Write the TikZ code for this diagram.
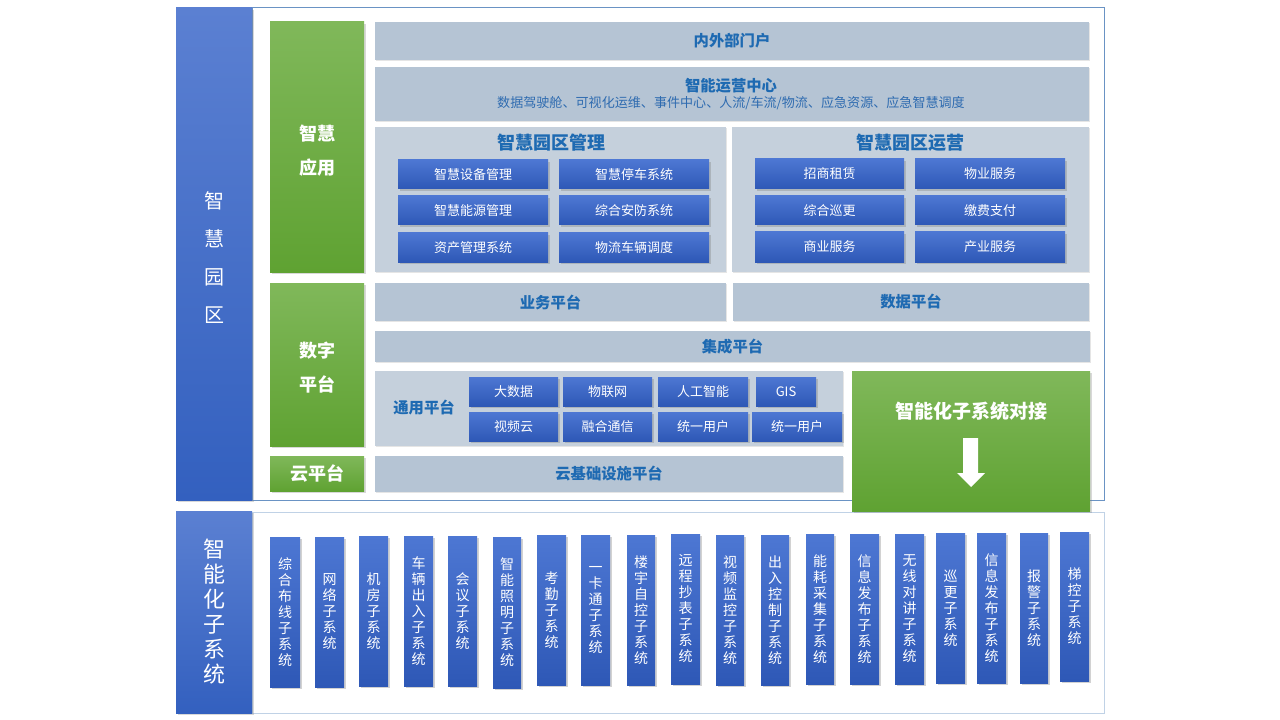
\documentclass[tikz,border=0pt]{standalone}
\usepackage{fontspec}
\setmainfont{Noto Sans CJK SC}
\usetikzlibrary{shadows}
\definecolor{bluetop}{HTML}{5B80D2}
\definecolor{bluebot}{HTML}{3360BF}
\definecolor{btntop}{HTML}{4D77D3}
\definecolor{btnbot}{HTML}{2E58B6}
\definecolor{greentop}{HTML}{80B85A}
\definecolor{greenbot}{HTML}{5FA232}
\definecolor{panelgray}{HTML}{B5C4D4}
\definecolor{panellight}{HTML}{C5D0DC}
\definecolor{titleblue}{HTML}{1E6AB2}
\definecolor{subblue}{HTML}{2E6BB0}
\definecolor{frameblue}{HTML}{6A93C4}
\definecolor{framelight}{HTML}{C0D2E6}
\newcommand\bx[7]{\node[#2, minimum width={(#5-#3)*0.75pt}, minimum height={(#6-#4)*0.75pt}] (#1) at ({(#3+#5)/2},{(#4+#6)/2}) {#7};}
\tikzset{
  base/.style={inner sep=0pt, outer sep=0pt, align=center},
  sidebar/.style={base, top color=bluetop, bottom color=bluebot, text=white,
    drop shadow={shadow xshift=1.5pt, shadow yshift=-1.5pt, opacity=0.3}},
  greenbox/.style={base, top color=greentop, bottom color=greenbot, text=white,
    font=\bfseries\fontsize{13.5}{25.5}\selectfont,
    drop shadow={shadow xshift=1.5pt, shadow yshift=-1.5pt, opacity=0.3}},
  greentext/.style={base, text=white, font=\bfseries\fontsize{13.5}{25.5}\selectfont},
  panel/.style={base, fill=panelgray, text=titleblue, font=\bfseries\fontsize{11.5}{14}\selectfont,
    drop shadow={shadow xshift=1pt, shadow yshift=-1pt, opacity=0.2}},
  container/.style={base, fill=panellight,
    drop shadow={shadow xshift=1pt, shadow yshift=-1pt, opacity=0.2}},
  btn/.style={base, top color=btntop, bottom color=btnbot, text=white,
    font=\fontsize{9.75}{12}\selectfont,
    drop shadow={shadow xshift=1.5pt, shadow yshift=-1.5pt, opacity=0.35}},
  vbox/.style={btn, font=\fontsize{10.5}{12}\selectfont},
  heading/.style={base, text=titleblue, font=\bfseries\fontsize{13.5}{16}\selectfont},
  frame/.style={base, draw=frameblue, line width=0.75pt},
  framelt/.style={base, draw=framelight, line width=0.75pt},
}
\begin{document}
\begin{tikzpicture}[x=0.75pt,y=-0.75pt]
\useasboundingbox[fill=white] (0,0) rectangle (1280,720);
% frames
\bx{topframe}{frame}{252}{8}{1104}{500}{}
\bx{botframe}{framelt}{252}{512}{1104}{713}{}
% side bars
\bx{park}{sidebar}{176}{8}{252}{500}{}
\node[base, text=white, font=\fontsize{15}{28.5}\selectfont] (parkt) at (214,258) {智\\慧\\园\\区};
\bx{subsys}{sidebar, font=\fontsize{16.5}{18.75}\selectfont}{176}{511}{252}{713}{智\\能\\化\\子\\系\\统}
% green
\bx{app}{greenbox}{270}{22}{364}{272}{}
\node[greentext] (appt) at (317,151) {智慧\\应用};
\bx{digital}{greenbox}{270}{283}{364}{446}{}
\node[greentext] (digitalt) at (317,368) {数字\\平台};
\bx{cloud}{greenbox}{270}{456}{364}{491}{云平台}
\bx{dock}{greenbox}{852}{371}{1090}{511}{}
\node[base, text=white, font=\bfseries\fontsize{14.25}{17}\selectfont] (docktxt) at (971,411) {智能化子系统对接};
\fill[white] (963,438) -- (978,438) -- (978,473) -- (985,473) -- (971,487) -- (957,473) -- (963,473) -- cycle;
% top panels
\bx{portal}{panel}{375}{22}{1089}{60}{内外部门户}
\bx{ioc}{panel}{375}{67}{1089}{121}{}
\node[base, text=titleblue, font=\bfseries\fontsize{11.5}{14}\selectfont] (ioct) at (731,86) {智能运营中心};
\node[base, text=subblue, font=\fontsize{9.8}{12}\selectfont] (iocs) at (731,103) {数据驾驶舱、可视化运维、事件中心、人流/车流/物流、应急资源、应急智慧调度};
\bx{mgmt}{container}{375}{127}{726}{272}{}
\bx{ops}{container}{732}{127}{1089}{272}{}
\node[heading] (mgmth) at (551,143) {智慧园区管理};
\node[heading] (opsh) at (910,143) {智慧园区运营};
% management buttons
\bx{m11}{btn}{398}{160}{548}{189}{智慧设备管理}
\bx{m12}{btn}{559}{160}{709}{189}{智慧停车系统}
\bx{m21}{btn}{398}{196}{548}{225}{智慧能源管理}
\bx{m22}{btn}{559}{196}{709}{225}{综合安防系统}
\bx{m31}{btn}{398}{233}{548}{262}{资产管理系统}
\bx{m32}{btn}{559}{233}{709}{262}{物流车辆调度}
% operation buttons
\bx{o11}{btn}{755}{159}{904}{189}{招商租赁}
\bx{o12}{btn}{915}{159}{1065}{189}{物业服务}
\bx{o21}{btn}{755}{196}{904}{225}{综合巡更}
\bx{o22}{btn}{915}{196}{1065}{225}{缴费支付}
\bx{o31}{btn}{755}{232}{904}{262}{商业服务}
\bx{o32}{btn}{915}{232}{1065}{262}{产业服务}
% platforms
\bx{biz}{panel}{375}{283}{726}{321}{业务平台}
\bx{data}{panel}{733}{283}{1089}{321}{数据平台}
\bx{integ}{panel}{375}{331}{1090}{362}{集成平台}
\bx{common}{container}{375}{371}{843}{446}{}
\node[base, text=titleblue, font=\bfseries\fontsize{11.5}{14}\selectfont] (commont) at (424,408) {通用平台};
\bx{c11}{btn}{469}{377}{558}{406}{大数据}
\bx{c12}{btn}{563}{377}{652}{406}{物联网}
\bx{c13}{btn}{658}{377}{748}{406}{人工智能}
\bx{c14}{btn}{756}{377}{816}{406}{GIS}
\bx{c21}{btn}{469}{412}{558}{441}{视频云}
\bx{c22}{btn}{563}{412}{652}{441}{融合通信}
\bx{c23}{btn}{658}{412}{748}{441}{统一用户}
\bx{c24}{btn}{752}{412}{842}{441}{统一用户}
\bx{infra}{panel}{375}{456}{843}{492}{云基础设施平台}
% subsystems
\bx{s1}{vbox}{270}{537}{300}{687}{综\\合\\布\\线\\子\\系\\统}
\bx{s2}{vbox}{315}{537}{344}{687}{网\\络\\子\\系\\统}
\bx{s3}{vbox}{359}{536}{388}{686}{机\\房\\子\\系\\统}
\bx{s4}{vbox}{404}{536}{433}{686}{车\\辆\\出\\入\\子\\系\\统}
\bx{s5}{vbox}{448}{536}{477}{686}{会\\议\\子\\系\\统}
\bx{s6}{vbox}{493}{537}{521}{688}{智\\能\\照\\明\\子\\系\\统}
\bx{s7}{vbox}{537}{535}{566}{685}{考\\勤\\子\\系\\统}
\bx{s8}{vbox}{581}{535}{610}{685}{一\\卡\\通\\子\\系\\统}
\bx{s9}{vbox}{627}{535}{655}{685}{楼\\宇\\自\\控\\子\\系\\统}
\bx{s10}{vbox}{671}{534}{700}{684}{远\\程\\抄\\表\\子\\系\\统}
\bx{s11}{vbox}{716}{535}{744}{685}{视\\频\\监\\控\\子\\系\\统}
\bx{s12}{vbox}{761}{535}{789}{685}{出\\入\\控\\制\\子\\系\\统}
\bx{s13}{vbox}{806}{534}{834}{684}{能\\耗\\采\\集\\子\\系\\统}
\bx{s14}{vbox}{850}{534}{879}{684}{信\\息\\发\\布\\子\\系\\统}
\bx{s15}{vbox}{895}{534}{924}{684}{无\\线\\对\\讲\\子\\系\\统}
\bx{s16}{vbox}{936}{533}{965}{683}{巡\\更\\子\\系\\统}
\bx{s17}{vbox}{977}{533}{1006}{683}{信\\息\\发\\布\\子\\系\\统}
\bx{s18}{vbox}{1020}{533}{1048}{683}{报\\警\\子\\系\\统}
\bx{s19}{vbox}{1060}{532}{1089}{681}{梯\\控\\子\\系\\统}
\end{tikzpicture}
\end{document}
